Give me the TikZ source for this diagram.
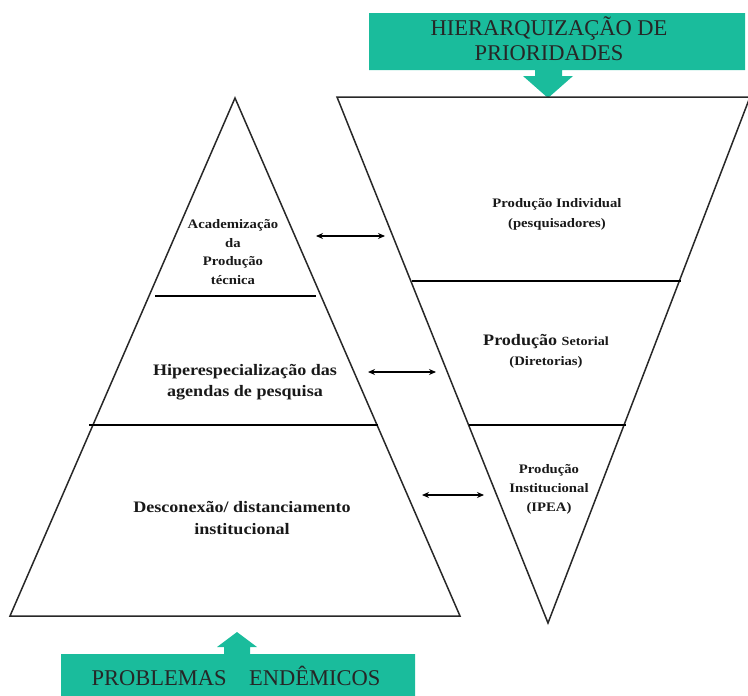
\documentclass[tikz,border=0pt]{standalone}
\usepackage{fontspec}
\setmainfont{Liberation Serif}
\newfontfamily\trifont[FakeStretch=1.13]{Liberation Serif}
\usetikzlibrary{arrows.meta}
\definecolor{tealbox}{RGB}{26,188,156}
\definecolor{linegray}{RGB}{40,40,40}
\begin{document}
\begin{tikzpicture}[x=1pt,y=-1pt,
  edge/.style={draw=linegray,line width=1.5pt,line join=miter},
  divider/.style={draw=black,line width=1.3pt},
  link/.style={draw=black,line width=1.3pt,{Stealth[length=7pt,width=6pt]}-{Stealth[length=7pt,width=6pt]}},
  banner/.style={fill=tealbox,draw=none},
  bannertext/.style={font=\fontsize{22.5}{25}\selectfont,text=black!85,align=center,inner sep=0pt},
  tritext/.style 2 args={font=\trifont\bfseries\fontsize{#1}{#2}\selectfont,align=center,inner sep=0pt,text=black!90},
]
\useasboundingbox (0,0) rectangle (748,696);

% banners with arrows
\fill[banner] (369,13) -- (745,13) -- (745,70) -- (562,70) -- (562,76) -- (573,76)
  -- (548,98) -- (523,76) -- (535,76) -- (535,70) -- (369,70) -- cycle;
\fill[banner] (61,654) -- (224,654) -- (224,647) -- (217,647) -- (237,632)
  -- (257,647) -- (250,647) -- (250,654) -- (415,654) -- (415,696) -- (61,696) -- cycle;

\node[bannertext] (top) at (549,39) {HIERARQUIZAÇÃO DE\\PRIORIDADES};
\node[bannertext] (bottom) at (236,676) {PROBLEMAS\quad ENDÊMICOS};

% left pyramid
\coordinate (pA) at (235,98);
\coordinate (pL) at (10,616);
\coordinate (pR) at (460,616);
\draw[edge] (pA) -- (pL) -- (pR) -- cycle;
\draw[divider] (155,296) -- (316,296);
\draw[divider] (89,425) -- (378,425);

% inverted pyramid
\coordinate (iL) at (337,97);
\coordinate (iR) at (750,97);
\coordinate (iB) at (548,623);
\draw[edge] (iR) -- (iL) -- (iB) -- (iR);
\draw[divider] (412,281) -- (681,281);
\draw[divider] (469,425) -- (626,425);

% texts left
\node[tritext={13}{18.5}] (t1) at (233,252) {Academização\\da\\Produção\\técnica};
\node[tritext={16}{21}] (t2) at (245,382) {Hiperespecialização das\\agendas de pesquisa};
\node[tritext={16}{22}] (t3) at (242,518) {Desconexão/ distanciamento\\institucional};

% texts right
\node[tritext={13}{20}] (r1) at (557,214) {Produção Individual\\(pesquisadores)};
\node[tritext={16}{20}] (r2) at (546,351) {Produção {\fontsize{12.5}{14}\selectfont Setorial}\\{\fontsize{13}{14}\selectfont(Diretorias)}};
\node[tritext={13}{19}] (r3) at (549,489) {Produção\\Institucional\\(IPEA)};

% connectors
\coordinate (a1) at (316,236); \coordinate (b1) at (385,236);
\coordinate (a2) at (368,372); \coordinate (b2) at (436,372);
\coordinate (a3) at (422,495); \coordinate (b3) at (484,495);
\draw[link] (a1) -- (b1);
\draw[link] (a2) -- (b2);
\draw[link] (a3) -- (b3);
\end{tikzpicture}
\end{document}
